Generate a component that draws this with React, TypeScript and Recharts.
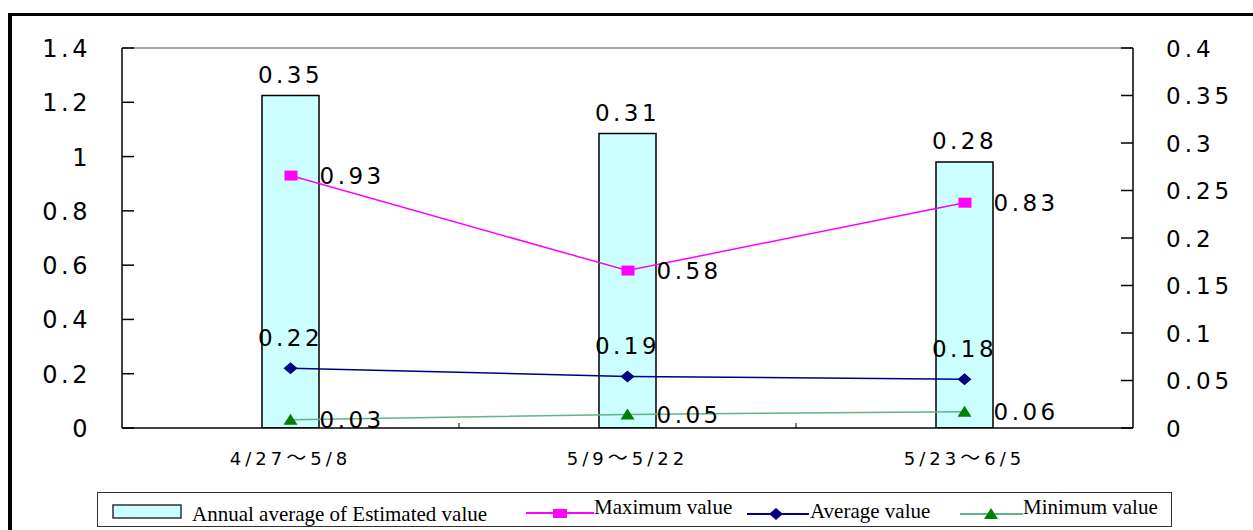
import React from "react";
import {
  Bar,
  ComposedChart,
  LabelList,
  Line,
  ReferenceLine,
  XAxis,
  YAxis,
} from "recharts";

const periods = ["4/27～5/8", "5/9～5/22", "5/23～6/5"];
const annualAverage = [0.35, 0.31, 0.28];
const maximumValues = [0.93, 0.58, 0.83];
const averageValues = [0.22, 0.19, 0.18];
const minimumValues = [0.03, 0.05, 0.06];
const leftTicks = [0, 0.2, 0.4, 0.6, 0.8, 1, 1.2, 1.4];
const rightTicks = [0, 0.05, 0.1, 0.15, 0.2, 0.25, 0.3, 0.35, 0.4];

const data = periods.map((period, i) => ({
  period,
  annual: annualAverage[i],
  max: maximumValues[i],
  avg: averageValues[i],
  min: minimumValues[i],
}));

const W = 1253;
const H = 530;
const PLOT_LEFT = 122;
const PLOT_RIGHT = 1133;
const PLOT_TOP = 48;
const PLOT_BOTTOM = 428;
const BAND = (PLOT_RIGHT - PLOT_LEFT) / periods.length;

const NUM_FONT = "'DejaVu Sans', sans-serif";
const labelStyle = {
  fontFamily: NUM_FONT,
  fontSize: 23,
  fill: "#000",
  letterSpacing: 3.5,
};

function LeftTick(props: any) {
  const { y, payload } = props;
  return (
    <g>
      <line x1={PLOT_LEFT} x2={PLOT_LEFT + 12} y1={y} y2={y} stroke="#000" strokeWidth={1.5} />
      <text
        x={91}
        y={y + 2}
        textAnchor="end"
        dominantBaseline="middle"
        fontFamily={NUM_FONT}
        fontSize={24}
        letterSpacing={3.5}
        fill="#000"
      >
        {payload.value}
      </text>
    </g>
  );
}

function RightTick(props: any) {
  const { y, payload } = props;
  return (
    <g>
      <line x1={PLOT_RIGHT - 12} x2={PLOT_RIGHT} y1={y} y2={y} stroke="#000" strokeWidth={1.5} />
      <text
        x={1166}
        y={y + 2}
        textAnchor="start"
        dominantBaseline="middle"
        fontFamily={NUM_FONT}
        fontSize={23}
        letterSpacing={4}
        fill="#000"
      >
        {payload.value}
      </text>
    </g>
  );
}

// period label: the wave dash gets a CJK face so it comes out wide like the original
function PeriodTick(props: any) {
  const { x, payload, index } = props;
  const [from, to] = String(payload.value).split("～");
  return (
    <g>
      {index < periods.length - 1 && (
        <line
          x1={x + BAND / 2}
          x2={x + BAND / 2}
          y1={PLOT_BOTTOM}
          y2={PLOT_BOTTOM - 5}
          stroke="#000"
          strokeWidth={1}
        />
      )}
      <text
        x={x}
        y={460}
        textAnchor="middle"
        dominantBaseline="middle"
        fontFamily={NUM_FONT}
        fontSize={18}
        letterSpacing={4}
        fill="#000"
      >
        <tspan>{from}</tspan>
        <tspan fontFamily="'Noto Sans CJK JP', sans-serif" fontSize={20}>～</tspan>
        <tspan>{to}</tspan>
      </text>
    </g>
  );
}

const SquareDot = (props: any) => {
  const { cx, cy } = props;
  return <rect x={cx - 6} y={cy - 5} width={13} height={10} fill="#FF00FF" />;
};

const DiamondDot = (props: any) => {
  const { cx, cy } = props;
  return (
    <polygon
      points={`${cx},${cy - 6} ${cx + 7},${cy} ${cx},${cy + 6} ${cx - 7},${cy}`}
      fill="#000080"
    />
  );
};

const TriangleDot = (props: any) => {
  const { cx, cy } = props;
  return (
    <polygon
      points={`${cx},${cy - 6} ${cx + 7},${cy + 5} ${cx - 7},${cy + 5}`}
      fill="#008000"
    />
  );
};

function LegendBox() {
  const text = {
    position: "absolute" as const,
    fontFamily: "'Liberation Serif', 'Times New Roman', serif",
    fontSize: 21,
    color: "#000",
    whiteSpace: "nowrap" as const,
    lineHeight: "22px",
  };
  return (
    <div
      style={{
        position: "absolute",
        left: 97,
        top: 492,
        width: 1075,
        height: 35,
        border: "1.5px solid #333",
        background: "#fff",
        boxSizing: "border-box",
      }}
    >
      <svg width={1075} height={34} style={{ position: "absolute", left: 0, top: 0 }}>
        <rect x={15} y={12} width={68} height={13} fill="#CCFFFF" stroke="#333" strokeWidth={1.5} />
        <line x1={428} x2={496} y1={20} y2={20} stroke="#FF00FF" strokeWidth={2} />
        <rect x={455} y={16} width={14} height={9} fill="#FF00FF" />
        <line x1={649} x2={711} y1={21} y2={21} stroke="#000080" strokeWidth={2} />
        <polygon points="678,15 685,21 678,27 671,21" fill="#000080" />
        <line x1={862} x2={925} y1={21} y2={21} stroke="#5DB585" strokeWidth={2} />
        <polygon points="893,15 900,26 886,26" fill="#008000" />
      </svg>
      <span style={{ ...text, left: 94, top: 10 }}>Annual average of Estimated value</span>
      <span style={{ ...text, left: 496, top: 3 }}>Maximum value</span>
      <span style={{ ...text, left: 712, top: 7 }}>Average value</span>
      <span style={{ ...text, left: 925, top: 3 }}>Minimum value</span>
    </div>
  );
}

export default function App() {
  return (
    <div
      style={{
        position: "absolute",
        left: 0,
        top: 0,
        width: W,
        height: H,
        overflow: "hidden",
        background: "#fff",
      }}
    >
      <div
        style={{
          position: "absolute",
          left: 8,
          top: 13,
          width: 1300,
          height: 600,
          borderLeft: "4px solid #000",
          borderTop: "3px solid #000",
        }}
      />
      <div style={{ position: "absolute", left: 0, top: 0 }}>
        <ComposedChart
          width={W}
          height={H}
          data={data}
          margin={{ top: PLOT_TOP, right: 0, bottom: H - PLOT_BOTTOM - 50, left: 0 }}
        >
          <XAxis
            dataKey="period"
            xAxisId="x"
            height={50}
            axisLine={{ stroke: "#000", strokeWidth: 1.5 }}
            tickLine={false}
            tick={<PeriodTick />}
            interval={0}
          />
          <YAxis
            yAxisId="left"
            width={PLOT_LEFT}
            domain={[0, 1.4]}
            ticks={leftTicks}
            axisLine={{ stroke: "#000", strokeWidth: 1.5 }}
            tickLine={false}
            tick={<LeftTick />}
            allowDataOverflow
          />
          <YAxis
            yAxisId="right"
            orientation="right"
            width={W - PLOT_RIGHT}
            domain={[0, 0.4]}
            ticks={rightTicks}
            axisLine={{ stroke: "#000", strokeWidth: 1.5 }}
            tickLine={false}
            tick={<RightTick />}
            allowDataOverflow
          />
          <ReferenceLine xAxisId="x" yAxisId="left" y={1.4} stroke="#888" strokeWidth={1.5} />
          <Bar
            xAxisId="x"
            yAxisId="right"
            dataKey="annual"
            name="Annual average of Estimated value"
            barSize={57}
            fill="#CCFFFF"
            stroke="#000"
            strokeWidth={1.5}
            isAnimationActive={false}
          >
            <LabelList dataKey="annual" position="top" offset={13} style={labelStyle} />
          </Bar>
          <Line
            xAxisId="x"
            yAxisId="left"
            dataKey="max"
            name="Maximum value"
            stroke="#FF00FF"
            strokeWidth={1.5}
            dot={<SquareDot />}
            activeDot={false}
            isAnimationActive={false}
          >
            <LabelList dataKey="max" position="right" offset={29} style={labelStyle} />
          </Line>
          <Line
            xAxisId="x"
            yAxisId="left"
            dataKey="avg"
            name="Average value"
            stroke="#000080"
            strokeWidth={1.5}
            dot={<DiamondDot />}
            activeDot={false}
            isAnimationActive={false}
          >
            <LabelList dataKey="avg" position="top" offset={22} style={labelStyle} />
          </Line>
          <Line
            xAxisId="x"
            yAxisId="left"
            dataKey="min"
            name="Minimum value"
            stroke="#5DB585"
            strokeWidth={1.5}
            dot={<TriangleDot />}
            activeDot={false}
            isAnimationActive={false}
          >
            <LabelList dataKey="min" position="right" offset={29} style={labelStyle} />
          </Line>
        </ComposedChart>
      </div>
      <LegendBox />
    </div>
  );
}
